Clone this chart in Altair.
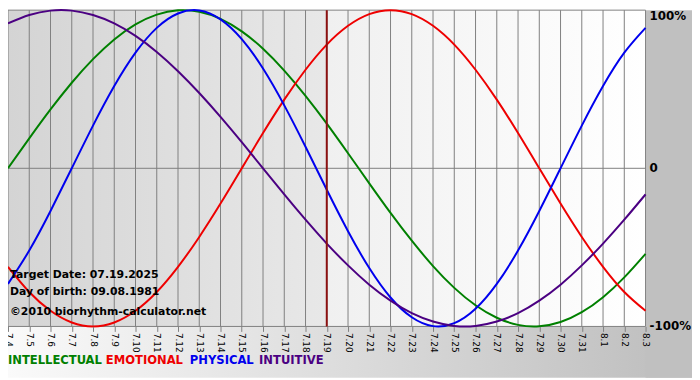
import altair as alt
import pandas as pd

# ---------------- data ----------------
days = ["7.4", "7.5", "7.6", "7.7", "7.8", "7.9", "7.10", "7.11", "7.12", "7.13",
        "7.14", "7.15", "7.16", "7.17", "7.18", "7.19", "7.20", "7.21", "7.22", "7.23",
        "7.24", "7.25", "7.26", "7.27", "7.28", "7.29", "7.30", "7.31", "8.1", "8.2", "8.3"]

intellectual = [0, 18.9, 37.2, 54.1, 69.0, 81.5, 91.0, 97.2, 99.9, 99.0,
                94.5, 86.6, 75.6, 61.8, 45.8, 28.2, 9.5, -9.5, -28.2, -45.8,
                -61.8, -75.6, -86.6, -94.5, -99.0, -99.9, -97.2, -91.0, -81.5, -69.0, -54.1]
emotional = [-62.3, -78.2, -90.1, -97.5, -100, -97.5, -90.1, -78.2, -62.3, -43.4,
             -22.3, 0, 22.3, 43.4, 62.3, 78.2, 90.1, 97.5, 100, 97.5,
             90.1, 78.2, 62.3, 43.4, 22.3, 0, -22.3, -43.4, -62.3, -78.2, -90.1]
physical = [-73.1, -52.0, -27.0, 0, 27.0, 52.0, 73.1, 88.8, 97.9, 99.8,
            94.2, 81.7, 63.1, 39.8, 13.6, -13.6, -39.8, -63.1, -81.7, -94.2,
            -99.8, -97.9, -88.8, -73.1, -52.0, -27.0, 0, 27.0, 52.0, 73.1, 88.8]
intuitive = [91.6, 96.9, 99.7, 99.7, 96.9, 91.6, 83.7, 73.6, 61.4, 47.6,
             32.5, 16.5, 0, -16.5, -32.5, -47.6, -61.4, -73.6, -83.7, -91.6,
             -96.9, -99.7, -99.7, -96.9, -91.6, -83.7, -73.6, -61.4, -47.6, -32.5, -16.5]

series_names = ["INTELLECTUAL", "EMOTIONAL", "PHYSICAL", "INTUITIVE"]
series_colors = ["#008000", "#ee0000", "#0000ee", "#4b0082"]

target_label = "7.19"
y_ticks = [100, 0, -100]
y_tick_labels = ["100%", "0", "-100%"]
info_lines = ["Target Date: 07.19.2025", "Day of birth: 09.08.1981", "\u00a92010 biorhythm-calculator.net"]

# ---------------- layout ----------------
W, H = 645, 320
PAD_R, PAD_B = 47, 52
legend_x = [0, 99, 184, 254]
info_y = [268, 285, 305]

# ---------------- tables ----------------
idx = list(range(len(days)))
long = pd.concat([
    pd.DataFrame({"day": idx, "value": vals, "series": name})
    for name, vals in zip(series_names, [intellectual, emotional, physical, intuitive])
])
target_idx = days.index(target_label)

label_expr = "[" + ",".join("'%s'" % d for d in days) + "][datum.value]"

X = alt.X("day:Q",
          scale=alt.Scale(domain=[0, len(days) - 1], nice=False, zero=False),
          axis=alt.Axis(values=idx, labelExpr=label_expr, labelAngle=90,
                        labelFont="DejaVu Sans", labelFontSize=9, labelColor="black",
                        labelPadding=1, labelOverlap=False, labelBound=False, labelFlush=False,
                        tickColor="#808080", tickSize=5, tickWidth=1, zindex=1,
                        grid=False, domain=False, title=None))
Yscale = alt.Scale(domain=[-100, 100], nice=False, zero=False)
Y = alt.Y("value:Q", scale=Yscale, axis=None)

one = pd.DataFrame({"a": [0]})

bottom_bg = alt.Chart(one).mark_rect(
    fill=alt.LinearGradient(gradient="linear",
                            stops=[alt.GradientStop(color="#fafafa", offset=0),
                                   alt.GradientStop(color="#bdbdbd", offset=1)],
                            x1=0, x2=1, y1=0, y2=0)
).encode(x=alt.value(0), x2=alt.value(W + PAD_R), y=alt.value(H), y2=alt.value(H + PAD_B))

right_bg = alt.Chart(one).mark_rect(fill="#c0c0c0").encode(
    x=alt.value(W), x2=alt.value(W + PAD_R), y=alt.value(0), y2=alt.value(H + PAD_B))

left_plot = alt.Chart(pd.DataFrame({"day": [0], "day2": [target_idx]})).mark_rect(
    fill=alt.LinearGradient(gradient="linear",
                            stops=[alt.GradientStop(color="#d4d4d4", offset=0),
                                   alt.GradientStop(color="#e8e8e8", offset=1)],
                            x1=0, x2=1, y1=0, y2=0)
).encode(x=X, x2="day2:Q", y=alt.value(0), y2=alt.value(H))

right_plot = alt.Chart(pd.DataFrame({"day": [target_idx], "day2": [len(days) - 1]})).mark_rect(
    fill=alt.LinearGradient(gradient="linear",
                            stops=[alt.GradientStop(color="#f0f0f0", offset=0),
                                   alt.GradientStop(color="#ffffff", offset=1)],
                            x1=0, x2=1, y1=0, y2=0)
).encode(x=X, x2="day2:Q", y=alt.value(0), y2=alt.value(H))

vgrid = alt.Chart(pd.DataFrame({"day": idx})).mark_rule(color="#808080", strokeWidth=1).encode(x=X)
hgrid = alt.Chart(pd.DataFrame({"value": y_ticks})).mark_rule(color="#808080", strokeWidth=1).encode(y=Y)

lines = alt.Chart(long).mark_line(strokeWidth=2, interpolate="natural").encode(
    x=X, y=Y,
    color=alt.Color("series:N", scale=alt.Scale(domain=series_names, range=series_colors), legend=None),
    detail="series:N")

target = alt.Chart(pd.DataFrame({"day": [target_idx]})).mark_rule(color="#8b1010", strokeWidth=2).encode(x=X)

info = alt.Chart(pd.DataFrame({"t": info_lines, "yy": info_y})).mark_text(
    align="left", baseline="middle", font="DejaVu Sans", fontSize=11, fontWeight="bold", color="black"
).encode(x=alt.value(2), y=alt.Y("yy:Q", scale=None), text="t:N")

ylab_top = alt.Chart(pd.DataFrame({"value": y_ticks[:1], "t": y_tick_labels[:1]})).mark_text(
    align="left", baseline="top", dy=1, font="DejaVu Sans", fontSize=12, fontWeight="bold", color="black"
).encode(x=alt.value(W + 4), y=Y, text="t:N")
ylab_rest = alt.Chart(pd.DataFrame({"value": y_ticks[1:], "t": y_tick_labels[1:]})).mark_text(
    align="left", baseline="middle", font="DejaVu Sans", fontSize=12, fontWeight="bold", color="black"
).encode(x=alt.value(W + 4), y=Y, text="t:N")

legend_layers = [
    alt.Chart(one).mark_text(
        align="left", baseline="middle",
        font="DejaVu Sans Condensed, Liberation Sans Narrow, Roboto Condensed, DejaVu Sans",
        fontSize=13, fontWeight="bold", color=c, text=n
    ).encode(x=alt.value(lx), y=alt.value(H + 34))
    for n, c, lx in zip(series_names, series_colors, legend_x)
]

chart = alt.layer(
    bottom_bg, right_bg, left_plot, right_plot, vgrid, hgrid, lines, target, info,
    ylab_top, ylab_rest, *legend_layers
).properties(
    width=W, height=H,
    autosize=alt.AutoSizeParams(type="none"),
    padding={"left": 0, "top": 0, "right": PAD_R, "bottom": PAD_B},
    background="white"
).configure_view(strokeWidth=0)

chart.save("out.html", embed_options={"renderer": "svg", "actions": False})
